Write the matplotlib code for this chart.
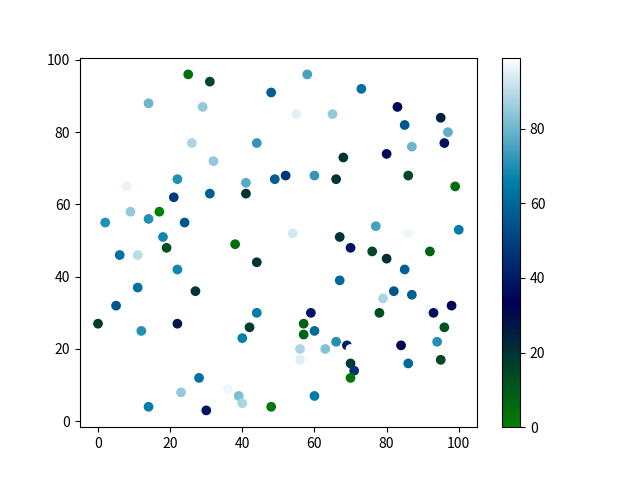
import matplotlib
matplotlib.use("Agg")
import matplotlib.pyplot as plt

plt.rcParams['font.family'] = ['Noto Sans CJK SC', 'DejaVu Sans']

# point positions and colour values
x = [25, 31, 48, 58, 73, 14, 29, 83, 95, 55,
     65, 85, 97, 80, 96, 26, 44, 87, 68, 32,
     22, 8, 49, 52, 60, 66, 86, 99, 41, 41,
     31, 21, 9, 17, 14, 2, 24, 70, 54, 67,
     86, 77, 100, 18, 19, 38, 76, 80, 92, 6,
     11, 44, 85, 22, 67, 11, 27, 87, 79, 82,
     98, 5, 0, 12, 22, 44, 42, 57, 57, 59,
     60, 78, 93, 96, 40, 56, 63, 66, 69, 56,
     70, 71, 70, 86, 84, 94, 95, 28, 23, 14,
     30, 36, 39, 40, 48, 60, 70]
y = [96, 94, 91, 96, 92, 88, 87, 87, 84, 85,
     85, 82, 80, 74, 77, 77, 77, 76, 73, 72,
     67, 65, 67, 68, 68, 67, 68, 65, 66, 63,
     63, 62, 58, 58, 56, 55, 55, 48, 52, 51,
     52, 54, 53, 51, 48, 49, 47, 45, 47, 46,
     46, 44, 42, 42, 39, 37, 36, 35, 34, 36,
     32, 32, 27, 25, 27, 30, 26, 27, 24, 30,
     25, 30, 30, 26, 23, 20, 20, 22, 21, 17,
     16, 14, 12, 16, 21, 22, 17, 12, 8, 4,
     3, 9, 7, 5, 4, 7, 20]
c = [4, 15, 58, 75, 62, 80, 85, 35, 25, 95,
     85, 55, 78, 35, 37, 88, 72, 80, 20, 85,
     70, 96, 57, 47, 72, 20, 15, 5, 77, 20,
     57, 48, 85, 0, 70, 70, 55, 38, 93, 20,
     97, 75, 65, 68, 13, 5, 15, 22, 8, 62,
     90, 20, 58, 68, 60, 62, 20, 58, 88, 55,
     33, 55, 18, 70, 27, 65, 18, 8, 8, 38,
     60, 12, 37, 12, 66, 88, 83, 70, 40, 95,
     18, 45, 3, 60, 33, 70, 15, 62, 85, 65,
     38, 97, 82, 88, 2, 65, 99]

fig, ax = plt.subplots(figsize=(6.4, 4.8))
sc = ax.scatter(x, y, c=c, cmap='ocean')
fig.colorbar(sc, ax=ax)
fig.savefig('out.png', dpi=100)
